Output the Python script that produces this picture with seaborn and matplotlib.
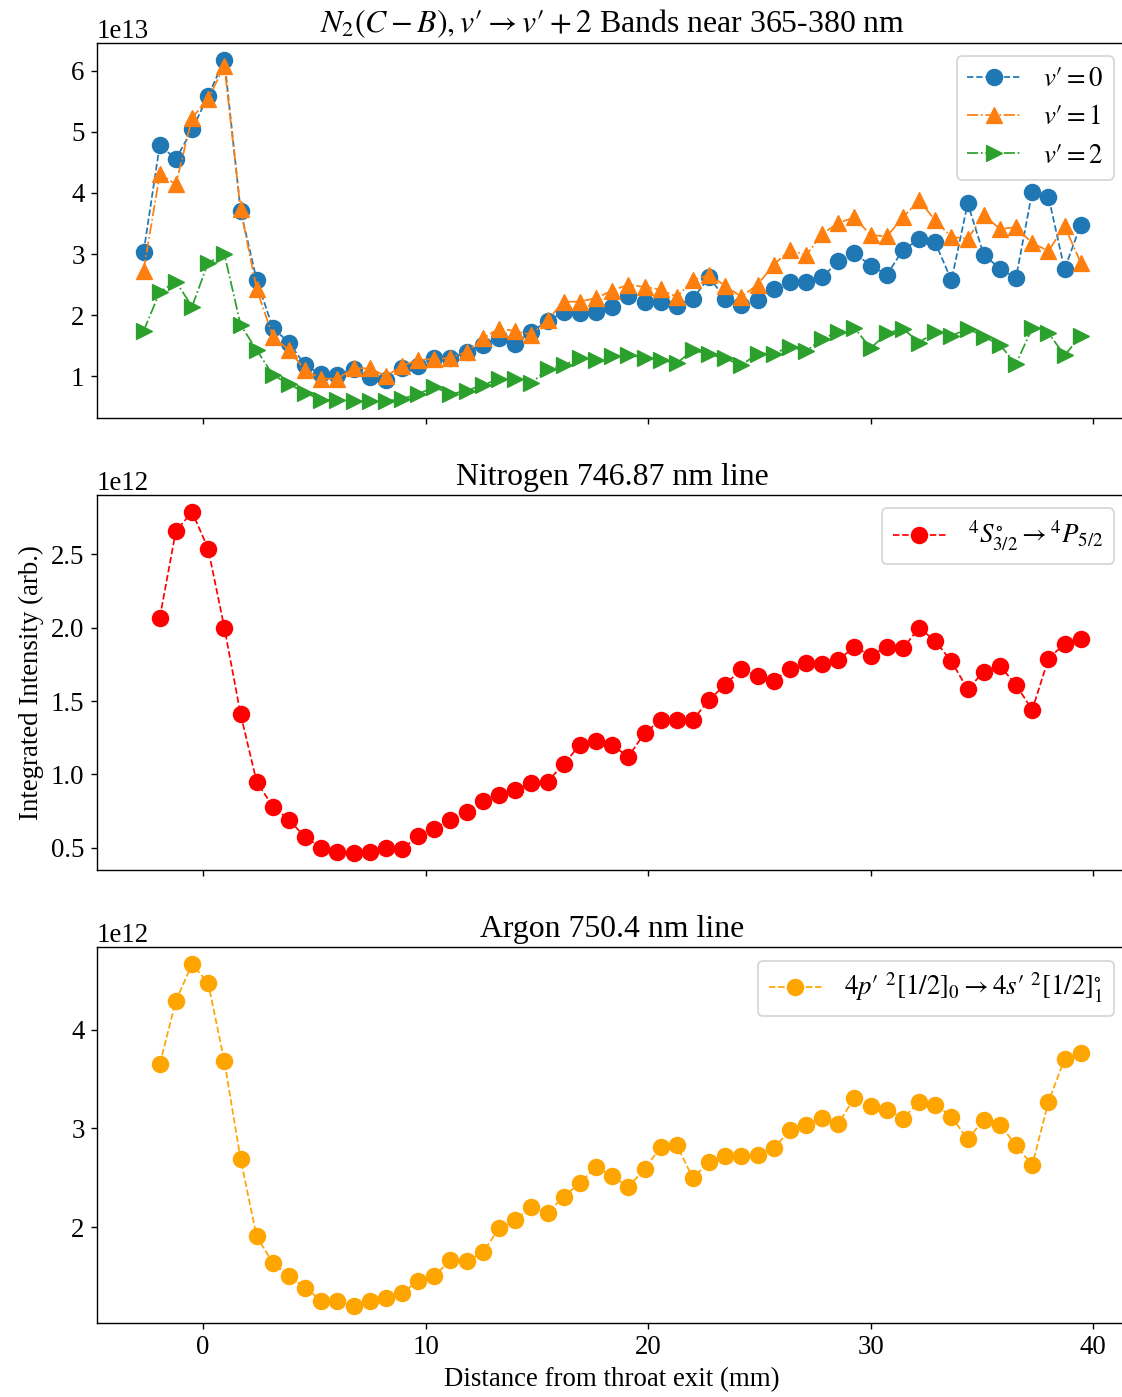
import numpy as np
import pandas as pd
import seaborn as sns
import matplotlib
matplotlib.use('Agg')
import matplotlib.pyplot as plt
from matplotlib.ticker import MultipleLocator

plt.rcParams['font.family'] = 'serif'
plt.rcParams['font.serif'] = ['Liberation Serif', 'DejaVu Serif']
plt.rcParams['mathtext.fontset'] = 'stix'

# distance from throat exit (mm)
dist = [-2.67, -1.94, -1.22, -0.49, 0.23, 0.96, 1.69, 2.41, 3.14, 3.86,
        4.59, 5.32, 6.04, 6.77, 7.49, 8.22, 8.95, 9.67, 10.40, 11.12,
        11.85, 12.58, 13.30, 14.03, 14.75, 15.48, 16.21, 16.93, 17.66, 18.38,
        19.11, 19.84, 20.56, 21.29, 22.01, 22.74, 23.47, 24.19, 24.92, 25.64,
        26.37, 27.10, 27.82, 28.55, 29.27, 30.00, 30.73, 31.45, 32.18, 32.90,
        33.63, 34.36, 35.08, 35.81, 36.53, 37.26, 37.99, 38.71, 39.44]

# N2 (C-B) bands, units of 1e13
n2_v0 = [3.03, 4.79, 4.55, 5.04, 5.59, 6.18, 3.71, 2.58, 1.79, 1.55,
         1.18, 1.03, 1.02, 1.12, 0.98, 0.93, 1.14, 1.16, 1.30, 1.29,
         1.40, 1.51, 1.63, 1.53, 1.73, 1.90, 2.05, 2.04, 2.05, 2.13,
         2.31, 2.21, 2.21, 2.15, 2.27, 2.62, 2.27, 2.17, 2.24, 2.43,
         2.55, 2.55, 2.62, 2.88, 3.02, 2.81, 2.66, 3.07, 3.24, 3.19,
         2.57, 3.83, 2.99, 2.76, 2.61, 4.02, 3.94, 2.75, 3.48]
n2_v1 = [2.73, 4.31, 4.14, 5.23, 5.54, 6.08, 3.73, 2.43, 1.65, 1.43,
         1.10, 0.96, 0.96, 1.13, 1.13, 1.00, 1.17, 1.27, 1.28, 1.30,
         1.40, 1.62, 1.78, 1.74, 1.68, 1.92, 2.22, 2.22, 2.28, 2.40,
         2.50, 2.46, 2.42, 2.30, 2.57, 2.66, 2.48, 2.30, 2.50, 2.82,
         3.07, 2.98, 3.33, 3.51, 3.60, 3.31, 3.29, 3.60, 3.88, 3.55,
         3.28, 3.25, 3.64, 3.41, 3.44, 3.18, 3.05, 3.46, 2.86]
n2_v2 = [1.74, 2.38, 2.55, 2.14, 2.86, 3.00, 1.84, 1.43, 1.02, 0.87,
         0.73, 0.61, 0.61, 0.60, 0.59, 0.59, 0.63, 0.71, 0.82, 0.71,
         0.76, 0.86, 0.95, 0.96, 0.89, 1.11, 1.18, 1.30, 1.27, 1.33,
         1.35, 1.30, 1.27, 1.21, 1.43, 1.36, 1.29, 1.18, 1.37, 1.37,
         1.48, 1.41, 1.61, 1.73, 1.79, 1.46, 1.70, 1.78, 1.55, 1.73,
         1.66, 1.78, 1.65, 1.51, 1.20, 1.79, 1.71, 1.34, 1.66]

# N 746.87 nm line, units of 1e12 (starts at second position)
n_line = [2.07, 2.66, 2.79, 2.54, 2.00, 1.41, 0.95, 0.78, 0.69,
          0.57, 0.50, 0.47, 0.46, 0.47, 0.50, 0.49, 0.58, 0.63, 0.69,
          0.74, 0.82, 0.86, 0.89, 0.94, 0.95, 1.07, 1.20, 1.23, 1.20,
          1.12, 1.28, 1.37, 1.37, 1.37, 1.51, 1.61, 1.72, 1.67, 1.64,
          1.72, 1.76, 1.75, 1.78, 1.87, 1.81, 1.87, 1.86, 2.00, 1.91,
          1.77, 1.58, 1.70, 1.74, 1.61, 1.44, 1.79, 1.89, 1.92]

# Ar 750.4 nm line, units of 1e12
ar_line = [3.65, 4.29, 4.66, 4.47, 3.68, 2.69, 1.91, 1.64, 1.51,
           1.39, 1.26, 1.26, 1.21, 1.26, 1.29, 1.34, 1.46, 1.51, 1.67,
           1.66, 1.75, 1.99, 2.07, 2.21, 2.15, 2.31, 2.45, 2.61, 2.52,
           2.41, 2.59, 2.81, 2.83, 2.50, 2.66, 2.72, 2.72, 2.73, 2.80,
           2.98, 3.03, 3.11, 3.05, 3.31, 3.23, 3.19, 3.10, 3.27, 3.24,
           3.12, 2.89, 3.09, 3.04, 2.83, 2.63, 3.27, 3.70, 3.76]

top = pd.DataFrame({'x': dist,
                    'v0': np.array(n2_v0) * 1e13,
                    'v1': np.array(n2_v1) * 1e13,
                    'v2': np.array(n2_v2) * 1e13})
atoms = pd.DataFrame({'x': dist[1:],
                      'N': np.array(n_line) * 1e12,
                      'Ar': np.array(ar_line) * 1e12})

fs = 15.5
tfs = 18.3

fig, axes = plt.subplots(3, 1, figsize=(8.976, 11.176), dpi=125, sharex=True)
fig.subplots_adjust(left=0.0862, right=1.005, top=0.9694, bottom=0.0532, hspace=0.204)

ms = 9.3
lw = 1.0
ax = axes[0]
sns.lineplot(data=top, x='x', y='v0', ax=ax, color='C0', marker='o', linestyle='--',
             markersize=ms, linewidth=lw, markeredgecolor='C0', label="$v\u2032=0$")
sns.lineplot(data=top, x='x', y='v1', ax=ax, color='C1', marker='^', linestyle='-.',
             markersize=ms, linewidth=lw, markeredgecolor='C1', label="$v\u2032=1$")
sns.lineplot(data=top, x='x', y='v2', ax=ax, color='C2', marker='>', linestyle='-.',
             markersize=ms, linewidth=lw, markeredgecolor='C2', label="$v\u2032=2$")
ax.set_title("$N_2(C-B), v\u2032 \\rightarrow v\u2032+2$ Bands near 365-380 nm", fontsize=tfs)
ax.legend(loc='upper right', fontsize=fs)
ax.yaxis.set_major_locator(MultipleLocator(1e13))

ax = axes[1]
sns.lineplot(data=atoms, x='x', y='N', ax=ax, color='red', marker='o', linestyle='--',
             markersize=ms, linewidth=lw, markeredgecolor='red',
             label=r"${}^4S^{\circ}_{3/2} \rightarrow {}^4P_{5/2}$")
ax.set_title("Nitrogen 746.87 nm line", fontsize=tfs)
ax.legend(loc='upper right', fontsize=fs)
ax.yaxis.set_major_locator(MultipleLocator(0.5e12))

ax = axes[2]
sns.lineplot(data=atoms, x='x', y='Ar', ax=ax, color='orange', marker='o', linestyle='--',
             markersize=ms, linewidth=lw, markeredgecolor='orange',
             label="$4p\u2032\\ {}^2[1/2]_0 \\rightarrow 4s\u2032\\ {}^2[1/2]^{\\circ}_1$")
ax.set_title("Argon 750.4 nm line", fontsize=tfs)
ax.legend(loc='upper right', fontsize=fs)
ax.yaxis.set_major_locator(MultipleLocator(1e12))

for ax in axes:
    ax.set_ylabel('')
    ax.set_xlabel('')
    ax.tick_params(labelsize=fs)
    ax.yaxis.get_offset_text().set_fontsize(fs)
axes[1].set_ylabel('Integrated Intensity (arb.)', fontsize=fs)
axes[2].set_xlabel('Distance from throat exit (mm)', fontsize=fs)

fig.savefig('out.png', dpi=125)
